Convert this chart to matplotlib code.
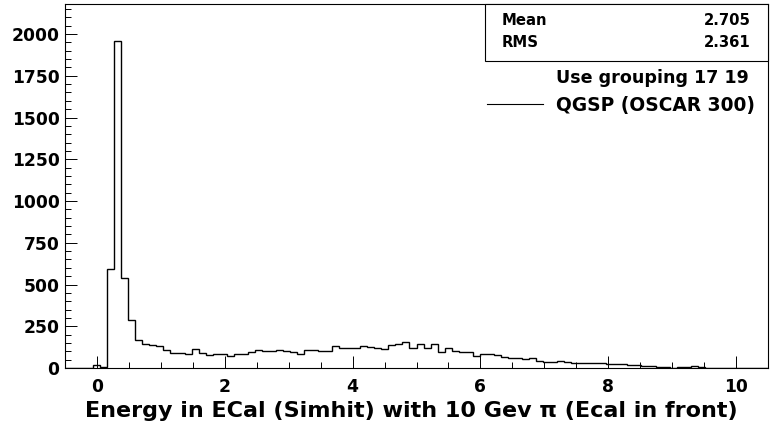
import numpy as np
import matplotlib
matplotlib.use("Agg")
import matplotlib.pyplot as plt
from matplotlib.ticker import MultipleLocator
from matplotlib.patches import Rectangle
from matplotlib.lines import Line2D

# Histogram: 100 bins between -0.5 and 10.5 GeV
x_min, x_max, n_bins = -0.5, 10.5, 100
counts = [
    0, 0, 0, 0, 15, 3, 595, 1960, 540, 290,
    170, 142, 136, 132, 106, 92, 88, 86, 114, 90,
    76, 86, 82, 70, 82, 86, 96, 106, 104, 100,
    110, 104, 98, 86, 106, 108, 104, 102, 132, 120,
    118, 120, 130, 124, 118, 116, 140, 144, 154, 118,
    142, 122, 142, 96, 120, 100, 98, 98, 72, 84,
    84, 78, 64, 62, 58, 54, 58, 44, 38, 38,
    40, 34, 32, 32, 32, 28, 28, 22, 22, 22,
    16, 16, 12, 10, 8, 8, 2, 4, 4, 10,
    4, 1, 1, 0, 1, 0, 0, 0, 0, 0,
]
stat_names = ["Mean", "RMS"]
stat_values = ["2.705", "2.361"]
legend_header = "Use grouping 17 19"
legend_entry = "QGSP (OSCAR 300)"
x_title = "Energy in ECal (Simhit) with 10 Gev \u03c0 (Ecal in front)"

W, H = 770, 430
FONT = "DejaVu Sans"

fig = plt.figure(figsize=(W / 100, H / 100), dpi=100)
fig.patch.set_facecolor("white")


def fx(px):
    return px / W


def fy(py):
    return 1 - py / H


ax = fig.add_axes([fx(65), fy(368), fx(768) - fx(65), fy(4) - fy(368)])
edges = np.linspace(x_min, x_max, n_bins + 1)
ax.stairs(counts, edges, color="black", lw=1.0, baseline=0)

ax.set_xlim(x_min, x_max)
ax.set_ylim(0, 2180)
ax.xaxis.set_major_locator(MultipleLocator(2))
ax.xaxis.set_minor_locator(MultipleLocator(0.5))
ax.yaxis.set_major_locator(MultipleLocator(250))
ax.yaxis.set_minor_locator(MultipleLocator(50))
ax.tick_params(which="both", direction="in", top=False, right=False, width=0.7,
               color="black")
ax.tick_params(which="major", length=8.6)
ax.tick_params(which="minor", length=4.3)
ax.tick_params(axis="x", which="major", pad=7)
ax.tick_params(axis="y", which="major", pad=4)
for lbl in ax.get_xticklabels() + ax.get_yticklabels():
    lbl.set_fontfamily(FONT)
    lbl.set_fontweight("bold")
    lbl.set_fontsize(12.3)
for sp in ax.spines.values():
    sp.set_linewidth(0.8)
    sp.set_color("black")

# Axis title
fig.text(fx(411), fy(417.3), x_title, ha="center", va="baseline",
         fontfamily=FONT, fontweight="bold", fontsize=16.0)

# Statistics box
fig.patches.append(Rectangle((fx(485), fy(61)), fx(768) - fx(485), fy(4) - fy(61),
                             transform=fig.transFigure, facecolor="white",
                             edgecolor="black", lw=0.8, zorder=5))
for i, (name, val) in enumerate(zip(stat_names, stat_values)):
    base = 25 + i * 21.7
    fig.text(fx(501.7), fy(base), name, ha="left", va="baseline", fontfamily=FONT,
             fontweight="bold", fontsize=10.7, zorder=6)
    fig.text(fx(751), fy(base), val, ha="right", va="baseline", fontfamily=FONT,
             fontweight="bold", fontsize=10.7, zorder=6)

# Legend
fig.text(fx(556), fy(83.3), legend_header, ha="left", va="baseline",
         fontfamily=FONT, fontweight="bold", fontsize=12.6)
fig.lines.append(Line2D([fx(487), fx(543)], [fy(104), fy(104)],
                        transform=fig.transFigure, color="black", lw=0.8))
fig.text(fx(556), fy(111), legend_entry, ha="left", va="baseline",
         fontfamily=FONT, fontweight="bold", fontsize=13.4)

fig.savefig("out.png", dpi=100)
